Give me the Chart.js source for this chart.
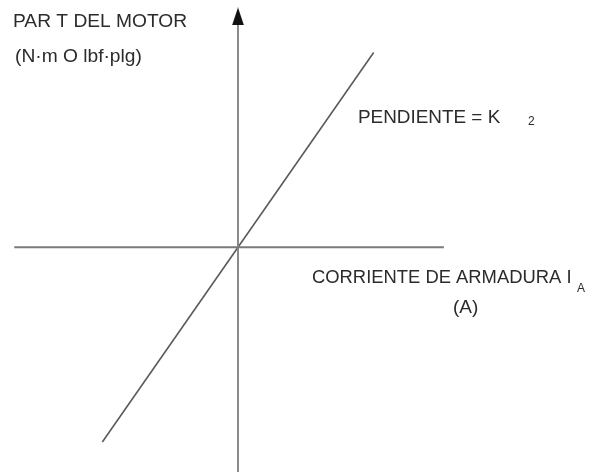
<!DOCTYPE html>
<html>
<head>
<meta charset="utf-8">
<script src="https://cdn.jsdelivr.net/npm/chart.js@4"></script>
<style>
  html, body { margin: 0; padding: 0; background: #fff; }
  #wrap { width: 595px; height: 472px; position: relative; }
</style>
</head>
<body>
<div id="wrap"><canvas id="chart"></canvas></div>
<script>
// T = K2 * Ia, schematic units
const currentA = [-5.7, 5.7];
const torque = [-7.8, 7.8];

// axes of the sketch
const xAxisEnds = [-9.4, 8.65];
const yAxisEnds = [-9, 8.9];
const arrowAt = 9.24;

const labels = [
  { text: "PAR T DEL MOTOR", x: 13, y: 27, size: 19.2 },
  { text: "(N\u00b7m O lbf\u00b7plg)", x: 15, y: 62, size: 19.2 },
  { text: "PENDIENTE = K", x: 358, y: 123, size: 18.9 },
  { text: "2", x: 528, y: 125, size: 12 },
  { text: "CORRIENTE DE ARMADURA I", x: 312, y: 283, size: 18.4 },
  { text: "A", x: 577, y: 292, size: 12 },
  { text: "(A)", x: 453, y: 313, size: 19 }
];

function arrowHead() {
  const c = document.createElement('canvas');
  c.width = 12;
  c.height = 18;
  const g = c.getContext('2d');
  g.fillStyle = '#111';
  g.beginPath();
  g.moveTo(6, 0);
  g.lineTo(12, 18);
  g.lineTo(0, 18);
  g.closePath();
  g.fill();
  return c;
}

const textPlugin = {
  id: 'sketchText',
  afterDatasetsDraw(chart) {
    const ctx = chart.ctx;
    ctx.save();
    ctx.fillStyle = '#2b2b2b';
    ctx.textBaseline = 'alphabetic';
    ctx.textAlign = 'left';
    labels.forEach(l => {
      ctx.font = l.size + 'px "Liberation Sans", Arial, sans-serif';
      ctx.fillText(l.text, l.x, l.y);
    });
    ctx.restore();
  }
};

new Chart(document.getElementById('chart'), {
  type: 'scatter',
  data: {
    datasets: [
      {
        label: 'eje I',
        data: xAxisEnds.map(x => ({ x: x, y: 0 })),
        showLine: true,
        borderColor: '#7a7a7a',
        borderWidth: 2,
        pointRadius: 0
      },
      {
        label: 'eje T',
        data: yAxisEnds.map(y => ({ x: 0, y: y })),
        showLine: true,
        borderColor: '#8a8a8a',
        borderWidth: 2,
        pointRadius: 0
      },
      {
        label: 'flecha',
        data: [{ x: 0, y: arrowAt }],
        pointStyle: arrowHead(),
        pointRadius: 9
      },
      {
        label: 'pendiente',
        data: currentA.map((x, i) => ({ x: x, y: torque[i] })),
        showLine: true,
        borderColor: '#5a5a5a',
        borderWidth: 1.6,
        pointRadius: 0
      }
    ]
  },
  options: {
    responsive: true,
    maintainAspectRatio: false,
    animation: false,
    layout: { padding: 0, autoPadding: false },
    plugins: {
      legend: { display: false },
      tooltip: { enabled: false }
    },
    scales: {
      x: { type: 'linear', min: -10, max: 15, display: false },
      y: { type: 'linear', min: -9, max: 9.9, display: false }
    }
  },
  plugins: [textPlugin]
});
</script>
</body>
</html>
